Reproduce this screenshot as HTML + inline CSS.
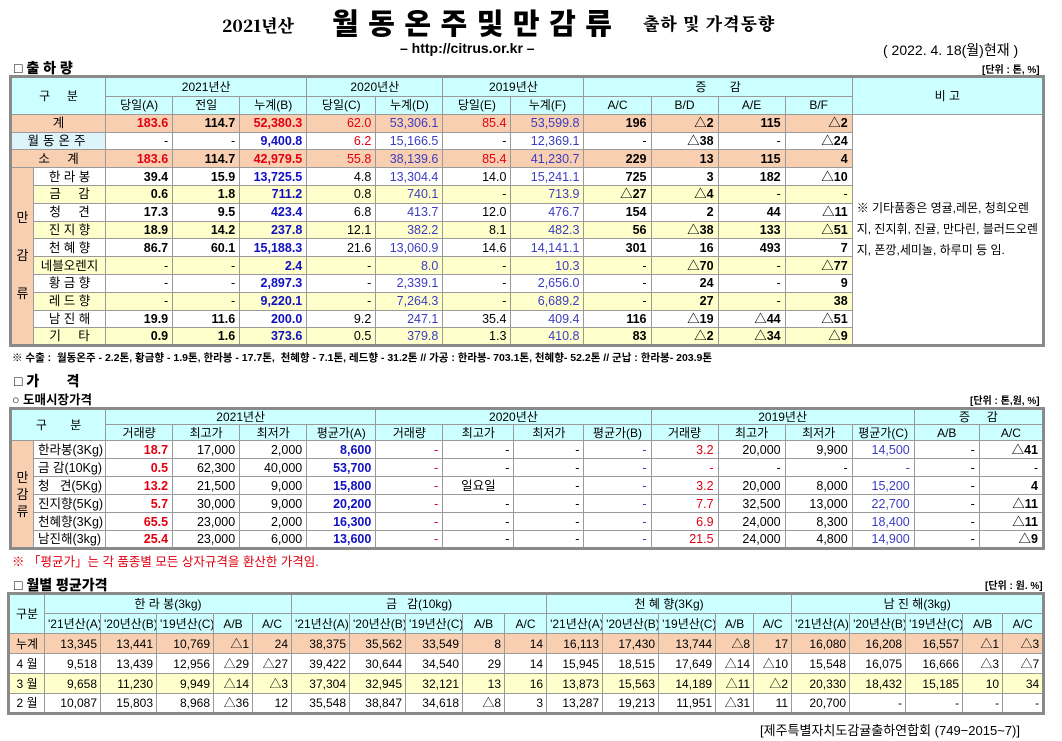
<!DOCTYPE html>
<html><head><meta charset="utf-8">
<style>
*{margin:0;padding:0;box-sizing:border-box}
body{width:1062px;height:741px;background:#fff;position:relative;overflow:hidden;font-family:"Liberation Sans","Noto Sans CJK KR",sans-serif;font-size:12px;color:#000}
.a{position:absolute;white-space:nowrap}
table{border-collapse:collapse;table-layout:fixed;position:absolute;border:3px solid #8a8a8a}
td{border:1px solid #9a9a9a;padding:0 4px;text-align:right;white-space:nowrap;overflow:hidden;line-height:14px;font-size:12.5px}
.h td,td.h{background:#ccffff;text-align:center;font-size:12px}
.c{text-align:center}
.p td{background:#f9cfb1}
.y td.v{background:#ffffcc}
.pk{background:#f9cfb1!important;text-align:center}
.r{color:#e00010;font-weight:bold}
.rn{color:#e00010}
.b{color:#1010c0;font-weight:bold}
.bn{color:#3c3cc0}
.k{font-weight:bold}
.t1 tr{height:17.8px}
.t2 tr{height:18px}
.t3 td{font-size:12px;padding:0 3px}
.t3 tr{height:20px}
.sec{font-weight:900;font-size:14px}
</style></head><body>

<div class="a" style="left:222px;top:12px;font-family:'Noto Serif CJK SC','Liberation Serif',serif;font-weight:900;font-size:17px">2021년산</div>
<div class="a" style="left:332px;top:1px;font-family:'Noto Sans CJK KR',sans-serif;font-weight:900;font-size:29px;letter-spacing:9.5px">월동온주및만감류</div>
<div class="a" style="left:643px;top:10px;font-family:'Noto Serif CJK SC',serif;font-weight:900;font-size:17px;letter-spacing:1px">출하 및 가격동향</div>
<div class="a" style="left:400px;top:40px;font-weight:bold;font-size:14px">– http://citrus.or.kr –</div>
<div class="a" style="left:883px;top:40px;font-size:14px">( 2022. 4. 18(월)현재 )</div>
<div class="a sec" style="left:14px;top:58px">□ 출 하 량</div>
<div class="a" style="left:982px;top:61px;font-size:10px;font-weight:bold">[단위 : 톤, %]</div>

<table class="t1" style="left:9px;top:75px;width:1036px">
<colgroup><col style="width:23px"><col style="width:72px"><col style="width:67px"><col style="width:67px"><col style="width:67px"><col style="width:69px"><col style="width:67px"><col style="width:68px"><col style="width:73px"><col style="width:67px"><col style="width:67px"><col style="width:67px"><col style="width:67px"><col style="width:191px"></colgroup>
<tr class="h" style="height:20px"><td colspan="2" rowspan="2">구 &nbsp; &nbsp; 분</td><td colspan="3">2021년산</td><td colspan="2">2020년산</td><td colspan="2">2019년산</td><td colspan="4">증 &nbsp; &nbsp; &nbsp; 감</td><td rowspan="2">비 고</td></tr>
<tr class="h"><td>당일(A)</td><td>전일</td><td>누계(B)</td><td>당일(C)</td><td>누계(D)</td><td>당일(E)</td><td>누계(F)</td><td>A/C</td><td>B/D</td><td>A/E</td><td>B/F</td></tr>
<tr class="p"><td colspan="2" class="c">계</td><td class="r">183.6</td><td class="k">114.7</td><td class="r">52,380.3</td><td class="rn">62.0</td><td class="bn">53,306.1</td><td class="rn">85.4</td><td class="bn">53,599.8</td><td class="k">196</td><td class="k">△2</td><td class="k">115</td><td class="k">△2</td><td rowspan="13" style="background:#fff;text-align:left;white-space:normal;font-size:12px;line-height:21px;padding:0 4px;vertical-align:middle">※ 기타품종은 영귤,레몬, 청희오렌지, 진지휘, 진귤, 만다린, 블러드오렌지, 폰깡,세미놀, 하루미 등 임.</td></tr>
<tr><td colspan="2" class="c" style="background:#ddf4fb;letter-spacing:4px">월동온주</td><td>-</td><td>-</td><td class="b">9,400.8</td><td class="rn">6.2</td><td class="bn">15,166.5</td><td>-</td><td class="bn">12,369.1</td><td>-</td><td class="k">△38</td><td>-</td><td class="k">△24</td></tr>
<tr class="p"><td colspan="2" class="c">소 &nbsp; &nbsp; 계</td><td class="r">183.6</td><td class="k">114.7</td><td class="r">42,979.5</td><td class="rn">55.8</td><td class="bn">38,139.6</td><td class="rn">85.4</td><td class="bn">41,230.7</td><td class="k">229</td><td class="k">13</td><td class="k">115</td><td class="k">4</td></tr>
<tr><td rowspan="10" class="pk" style="font-size:13px;line-height:38px;padding:0">만<br>감<br>류</td><td class="c">한 라 봉</td><td class="k">39.4</td><td class="k">15.9</td><td class="b">13,725.5</td><td>4.8</td><td class="bn">13,304.4</td><td>14.0</td><td class="bn">15,241.1</td><td class="k">725</td><td class="k">3</td><td class="k">182</td><td class="k">△10</td></tr>
<tr class="y"><td class="v c">금 &nbsp; &nbsp; 감</td><td class="v k">0.6</td><td class="v k">1.8</td><td class="v b">711.2</td><td class="v">0.8</td><td class="v bn">740.1</td><td class="v">-</td><td class="v bn">713.9</td><td class="v k">△27</td><td class="v k">△4</td><td class="v">-</td><td class="v">-</td></tr>
<tr><td class="c">청 &nbsp; &nbsp; 견</td><td class="k">17.3</td><td class="k">9.5</td><td class="b">423.4</td><td>6.8</td><td class="bn">413.7</td><td>12.0</td><td class="bn">476.7</td><td class="k">154</td><td class="k">2</td><td class="k">44</td><td class="k">△11</td></tr>
<tr class="y"><td class="v c">진 지 향</td><td class="v k">18.9</td><td class="v k">14.2</td><td class="v b">237.8</td><td class="v">12.1</td><td class="v bn">382.2</td><td class="v">8.1</td><td class="v bn">482.3</td><td class="v k">56</td><td class="v k">△38</td><td class="v k">133</td><td class="v k">△51</td></tr>
<tr><td class="c">천 혜 향</td><td class="k">86.7</td><td class="k">60.1</td><td class="b">15,188.3</td><td>21.6</td><td class="bn">13,060.9</td><td>14.6</td><td class="bn">14,141.1</td><td class="k">301</td><td class="k">16</td><td class="k">493</td><td class="k">7</td></tr>
<tr class="y"><td class="v c">네블오렌지</td><td class="v">-</td><td class="v">-</td><td class="v b">2.4</td><td class="v">-</td><td class="v bn">8.0</td><td class="v">-</td><td class="v bn">10.3</td><td class="v">-</td><td class="v k">△70</td><td class="v">-</td><td class="v k">△77</td></tr>
<tr><td class="c">황 금 향</td><td>-</td><td>-</td><td class="b">2,897.3</td><td>-</td><td class="bn">2,339.1</td><td>-</td><td class="bn">2,656.0</td><td>-</td><td class="k">24</td><td>-</td><td class="k">9</td></tr>
<tr class="y"><td class="v c">레 드 향</td><td class="v">-</td><td class="v">-</td><td class="v b">9,220.1</td><td class="v">-</td><td class="v bn">7,264.3</td><td class="v">-</td><td class="v bn">6,689.2</td><td class="v">-</td><td class="v k">27</td><td class="v">-</td><td class="v k">38</td></tr>
<tr><td class="c">남 진 해</td><td class="k">19.9</td><td class="k">11.6</td><td class="b">200.0</td><td>9.2</td><td class="bn">247.1</td><td>35.4</td><td class="bn">409.4</td><td class="k">116</td><td class="k">△19</td><td class="k">△44</td><td class="k">△51</td></tr>
<tr class="y"><td class="v c">기 &nbsp; &nbsp; 타</td><td class="v k">0.9</td><td class="v k">1.6</td><td class="v b">373.6</td><td class="v">0.5</td><td class="v bn">379.8</td><td class="v">1.3</td><td class="v bn">410.8</td><td class="v k">83</td><td class="v k">△2</td><td class="v k">△34</td><td class="v k">△9</td></tr>
</table>

<div class="a" style="left:12px;top:350px;font-size:10.5px;font-weight:bold">※ 수출 : &nbsp;월동온주 - 2.2톤, 황금향 - 1.9톤, 한라봉 - 17.7톤, &nbsp;천혜향 - 7.1톤, 레드향 - 31.2톤 // 가공 : 한라봉- 703.1톤, 천혜향- 52.2톤 // 군납 : 한라봉- 203.9톤</div>

<div class="a sec" style="left:14px;top:371px">□ 가 &nbsp; &nbsp; &nbsp; 격</div>
<div class="a" style="left:12px;top:389px;font-weight:bold;font-size:12.5px">○ 도매시장가격</div>
<div class="a" style="left:970px;top:392px;font-size:10px;font-weight:bold">[단위 : 톤,원, %]</div>

<table class="t2" style="left:9px;top:407px;width:1036px">
<colgroup><col style="width:23px"><col style="width:72px"><col style="width:67px"><col style="width:67px"><col style="width:67px"><col style="width:69px"><col style="width:67px"><col style="width:71px"><col style="width:70px"><col style="width:67px"><col style="width:67px"><col style="width:67px"><col style="width:67px"><col style="width:62px"><col style="width:65px"><col style="width:64px"></colgroup>
<tr class="h" style="height:16px"><td colspan="2" rowspan="2">구 &nbsp; &nbsp; &nbsp; 분</td><td colspan="4">2021년산</td><td colspan="4">2020년산</td><td colspan="4">2019년산</td><td colspan="2">증 &nbsp; &nbsp; 감</td></tr>
<tr class="h" style="height:16px"><td>거래량</td><td>최고가</td><td>최저가</td><td>평균가(A)</td><td>거래량</td><td>최고가</td><td>최저가</td><td>평균가(B)</td><td>거래량</td><td>최고가</td><td>최저가</td><td>평균가(C)</td><td>A/B</td><td>A/C</td></tr>
<tr><td rowspan="6" class="pk" style="font-size:13px;line-height:17px;padding:0">만<br>감<br>류</td><td style="text-align:left">한라봉(3Kg)</td><td class="r">18.7</td><td>17,000</td><td>2,000</td><td class="b">8,600</td><td class="rn">-</td><td>-</td><td>-</td><td class="bn">-</td><td class="rn">3.2</td><td>20,000</td><td>9,900</td><td class="bn">14,500</td><td>-</td><td class="k">△41</td></tr>
<tr><td style="text-align:left">금 감(10Kg)</td><td class="r">0.5</td><td>62,300</td><td>40,000</td><td class="b">53,700</td><td class="rn">-</td><td>-</td><td>-</td><td class="bn">-</td><td class="rn">-</td><td>-</td><td>-</td><td class="bn">-</td><td>-</td><td>-</td></tr>
<tr><td style="text-align:left">청 &nbsp; 견(5Kg)</td><td class="r">13.2</td><td>21,500</td><td>9,000</td><td class="b">15,800</td><td class="rn">-</td><td class="c">일요일</td><td>-</td><td class="bn">-</td><td class="rn">3.2</td><td>20,000</td><td>8,000</td><td class="bn">15,200</td><td>-</td><td class="k">4</td></tr>
<tr><td style="text-align:left">진지향(5Kg)</td><td class="r">5.7</td><td>30,000</td><td>9,000</td><td class="b">20,200</td><td class="rn">-</td><td>-</td><td>-</td><td class="bn">-</td><td class="rn">7.7</td><td>32,500</td><td>13,000</td><td class="bn">22,700</td><td>-</td><td class="k">△11</td></tr>
<tr><td style="text-align:left">천혜향(3Kg)</td><td class="r">65.5</td><td>23,000</td><td>2,000</td><td class="b">16,300</td><td class="rn">-</td><td>-</td><td>-</td><td class="bn">-</td><td class="rn">6.9</td><td>24,000</td><td>8,300</td><td class="bn">18,400</td><td>-</td><td class="k">△11</td></tr>
<tr><td style="text-align:left">남진해(3kg)</td><td class="r">25.4</td><td>23,000</td><td>6,000</td><td class="b">13,600</td><td class="rn">-</td><td>-</td><td>-</td><td class="bn">-</td><td class="rn">21.5</td><td>24,000</td><td>4,800</td><td class="bn">14,900</td><td>-</td><td class="k">△9</td></tr>
</table>

<div class="a" style="left:12px;top:551px;color:#e00010;font-size:12.5px">※ 「평균가」는 각 품종별 모든 상자규격을 환산한 가격임.</div>

<div class="a sec" style="left:14px;top:575px">□ 월별 평균가격</div>
<div class="a" style="left:985px;top:577px;font-size:10px;font-weight:bold">[단위 : 원. %]</div>

<table class="t3" style="left:7px;top:592px;width:1038px">
<colgroup><col style="width:36px"><col style="width:56px"><col style="width:56px"><col style="width:57px"><col style="width:39px"><col style="width:39px"><col style="width:58px"><col style="width:56px"><col style="width:57px"><col style="width:42px"><col style="width:42px"><col style="width:56px"><col style="width:56px"><col style="width:57px"><col style="width:38px"><col style="width:38px"><col style="width:58px"><col style="width:56px"><col style="width:57px"><col style="width:40px"><col style="width:41px"></colgroup>
<tr class="h"><td rowspan="2">구분</td><td colspan="5">한 라 봉(3kg)</td><td colspan="5">금 &nbsp; 감(10kg)</td><td colspan="5">천 혜 향(3Kg)</td><td colspan="5">남 진 해(3kg)</td></tr>
<tr class="h" style="font-size:11px"><td>'21년산(A)</td><td>'20년산(B)</td><td>'19년산(C)</td><td>A/B</td><td>A/C</td><td>'21년산(A)</td><td>'20년산(B)</td><td>'19년산(C)</td><td>A/B</td><td>A/C</td><td>'21년산(A)</td><td>'20년산(B)</td><td>'19년산(C)</td><td>A/B</td><td>A/C</td><td>'21년산(A)</td><td>'20년산(B)</td><td>'19년산(C)</td><td>A/B</td><td>A/C</td></tr>
<tr class="p"><td class="c">누계</td><td>13,345</td><td>13,441</td><td>10,769</td><td>△1</td><td>24</td><td>38,375</td><td>35,562</td><td>33,549</td><td>8</td><td>14</td><td>16,113</td><td>17,430</td><td>13,744</td><td>△8</td><td>17</td><td>16,080</td><td>16,208</td><td>16,557</td><td>△1</td><td>△3</td></tr>
<tr><td class="c">4 월</td><td>9,518</td><td>13,439</td><td>12,956</td><td>△29</td><td>△27</td><td>39,422</td><td>30,644</td><td>34,540</td><td>29</td><td>14</td><td>15,945</td><td>18,515</td><td>17,649</td><td>△14</td><td>△10</td><td>15,548</td><td>16,075</td><td>16,666</td><td>△3</td><td>△7</td></tr>
<tr style="background:#ffffcc"><td class="c">3 월</td><td>9,658</td><td>11,230</td><td>9,949</td><td>△14</td><td>△3</td><td>37,304</td><td>32,945</td><td>32,121</td><td>13</td><td>16</td><td>13,873</td><td>15,563</td><td>14,189</td><td>△11</td><td>△2</td><td>20,330</td><td>18,432</td><td>15,185</td><td>10</td><td>34</td></tr>
<tr><td class="c">2 월</td><td>10,087</td><td>15,803</td><td>8,968</td><td>△36</td><td>12</td><td>35,548</td><td>38,847</td><td>34,618</td><td>△8</td><td>3</td><td>13,287</td><td>19,213</td><td>11,951</td><td>△31</td><td>11</td><td>20,700</td><td>-</td><td>-</td><td>-</td><td>-</td></tr>
</table>

<div class="a" style="left:760px;top:720px;font-size:13px">[제주특별자치도감귤출하연합회 (749−2015~7)]</div>
</body></html>
